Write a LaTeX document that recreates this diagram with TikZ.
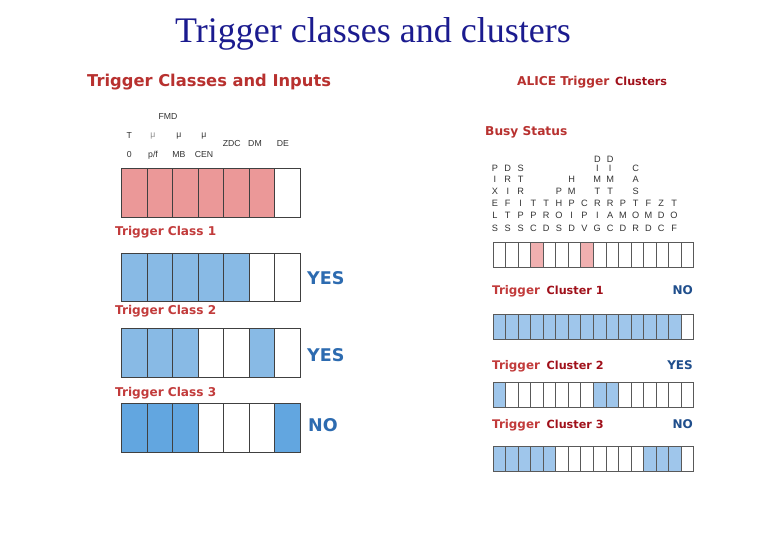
\documentclass[tikz,border=0pt]{standalone}
\usepackage{fontspec}
\setmainfont{Liberation Serif}
\newfontfamily\hdfont{DejaVu Sans}
\newfontfamily\lblfont{Liberation Sans}
\definecolor{titleblue}{HTML}{1B1B8F}
\definecolor{hdrred}{HTML}{B8312F}
\definecolor{clred}{HTML}{C23B3B}
\definecolor{cludark}{HTML}{A0101A}
\definecolor{pinkL}{HTML}{EB9898}
\definecolor{pinkR}{HTML}{F0B0B0}
\definecolor{blueA}{HTML}{88BAE5}
\definecolor{blueB}{HTML}{62A6E0}
\definecolor{blueR}{HTML}{9FC6EB}
\definecolor{ansblue}{HTML}{2D6BB0}
\definecolor{ansnavy}{HTML}{1F4E8C}
\definecolor{lblgray}{HTML}{333333}
\tikzset{
  cellL/.style={draw=black!75, line width=0.8pt, minimum width=25.5pt, minimum height=48.4pt, inner sep=0pt, anchor=north west},
  cellR/.style={draw=black!65, line width=0.7pt, minimum width=12.54pt, minimum height=25pt, inner sep=0pt, anchor=north west},
  hdr/.style={anchor=base west, inner sep=0pt, text=hdrred, font=\hdfont\bfseries\fontsize{16.3}{18}\selectfont},
  clslbl/.style={anchor=base west, inner sep=0pt, text=clred, font=\hdfont\bfseries\fontsize{12.1}{14}\selectfont},
  cludlbl/.style={anchor=base west, inner sep=0pt, text=cludark, font=\hdfont\bfseries\fontsize{11.2}{13}\selectfont},
  ansL/.style={anchor=base west, inner sep=0pt, text=ansblue, font=\hdfont\bfseries\fontsize{17.5}{20}\selectfont},
  ansR/.style={anchor=base east, inner sep=0pt, text=ansnavy, font=\hdfont\bfseries\fontsize{12}{14}\selectfont},
  small/.style={inner sep=0pt, text=lblgray, font=\lblfont\fontsize{8.7}{10}\selectfont},
  grid/.style={inner sep=0pt, text=lblgray, font=\lblfont\fontsize{9.2}{10}\selectfont},
}
\newcommand{\cellrow}[6]{%
  \foreach \fc [count=\i] in {#6} {\node[#2, fill=\fc] (#1-\i) at ({#3+(\i-1)*#4}, #5) {};}}
\begin{document}
\begin{tikzpicture}[x=1pt,y=-1pt]
\useasboundingbox[fill=white] (0,0) rectangle (780,540);
% title
\node[anchor=base, inner sep=0pt, text=titleblue, font=\fontsize{36}{40}\selectfont] (title) at (373,43) {Trigger classes and clusters};
% headers
\node[hdr] (hdrL) at (87,87) {Trigger Classes and Inputs};
\node[hdr, font=\hdfont\bfseries\fontsize{12.2}{14}\selectfont] (hdrR) at (517,85.5) {ALICE Trigger};
\node[cludlbl] (hdrR2) at (615,85.5) {Clusters};
\node[hdr, font=\hdfont\bfseries\fontsize{12.2}{14}\selectfont] (busy) at (485,136) {Busy Status};
% left input labels
\node[small] (fmd) at (168,116.7) {FMD};
\node[small] (t1) at (129.3,136) {T};
\node[small, text=black!45] (mu1) at (153,136) {μ};
\node[small] (mu2) at (179,136) {μ};
\node[small] (mu3) at (204,136) {μ};
\node[small] (zdc) at (231.7,143.3) {ZDC};
\node[small] (dm) at (255,143.3) {DM};
\node[small] (de) at (283,143.3) {DE};
\node[small] (z0) at (129.3,155) {0};
\node[small] (pf) at (153,155) {p/f};
\node[small] (mb) at (179,155) {MB};
\node[small] (cen) at (204,155) {CEN};
% left boxes
\cellrow{cA}{cellL}{121}{25.5}{168.3}{pinkL,pinkL,pinkL,pinkL,pinkL,pinkL,white}
\node[clslbl] (tc1) at (115,235.5) {Trigger Class 1};
\cellrow{cB}{cellL}{121}{25.5}{252.7}{blueA,blueA,blueA,blueA,blueA,white,white}
\node[ansL] (yes1) at (307,284.5) {YES};
\node[clslbl] (tc2) at (115,314.5) {Trigger Class 2};
\cellrow{cC}{cellL}{121}{25.5}{328.3}{blueA,blueA,blueA,white,white,blueA,white}
\node[ansL] (yes2) at (307,362) {YES};
\node[clslbl] (tc3) at (115,396) {Trigger Class 3};
\cellrow{cD}{cellL}{121}{25.5}{403.3}{blueB,blueB,blueB,white,white,white,blueB}
\node[ansL] (no1) at (308,431.5) {NO};
% busy letters grid
\foreach \st/\word [count=\k] in {1/{P,I,X,E,L,S},1/{D,R,I,F,T,S},1/{S,T,R,I,P,S},4/{T,P,C},4/{T,R,D},3/{P,H,O,S},2/{H,M,P,I,D},4/{C,P,V},0/{D,I,M,T,R,I,G},0/{D,I,M,T,R,A,C},4/{P,M,D},1/{C,A,S,T,O,R},4/{F,M,D},4/{Z,D,C},4/{T,O,F}} {
  \foreach \ch [count=\j] in \word {
    \pgfmathsetmacro{\yy}{{159,168.3,179,191,203.3,215.7,228.3}[\st+\j-1]}
    \node[grid] (bl-\k-\j) at ({495+(\k-1)*12.79}, \yy) {\ch};
  }
}
% right boxes
\cellrow{rA}{cellR}{492.7}{12.54}{242.3}{white,white,white,pinkR,white,white,white,pinkR,white,white,white,white,white,white,white,white}
\node[clslbl, font=\hdfont\bfseries\fontsize{11.9}{14}\selectfont] (tr1) at (492,294.5) {Trigger};
\node[cludlbl] (cl1) at (546.5,294.5) {Cluster 1};
\node[ansR] (rno1) at (693,294.5) {NO};
\cellrow{rB}{cellR}{492.7}{12.54}{314.3}{blueR,blueR,blueR,blueR,blueR,blueR,blueR,blueR,blueR,blueR,blueR,blueR,blueR,blueR,blueR,white}
\node[clslbl, font=\hdfont\bfseries\fontsize{11.9}{14}\selectfont] (tr2) at (492,369.5) {Trigger};
\node[cludlbl] (cl2) at (546.5,369.5) {Cluster 2};
\node[ansR] (ryes) at (693,369.5) {YES};
\cellrow{rC}{cellR}{492.7}{12.54}{382.3}{blueR,white,white,white,white,white,white,white,blueR,blueR,white,white,white,white,white,white}
\node[clslbl, font=\hdfont\bfseries\fontsize{11.9}{14}\selectfont] (tr3) at (492,428.5) {Trigger};
\node[cludlbl] (cl3) at (546.5,428.5) {Cluster 3};
\node[ansR] (rno2) at (693,428.5) {NO};
\cellrow{rD}{cellR}{492.7}{12.54}{445.7}{blueR,blueR,blueR,blueR,blueR,white,white,white,white,white,white,white,blueR,blueR,blueR,white}
\end{tikzpicture}
\end{document}
